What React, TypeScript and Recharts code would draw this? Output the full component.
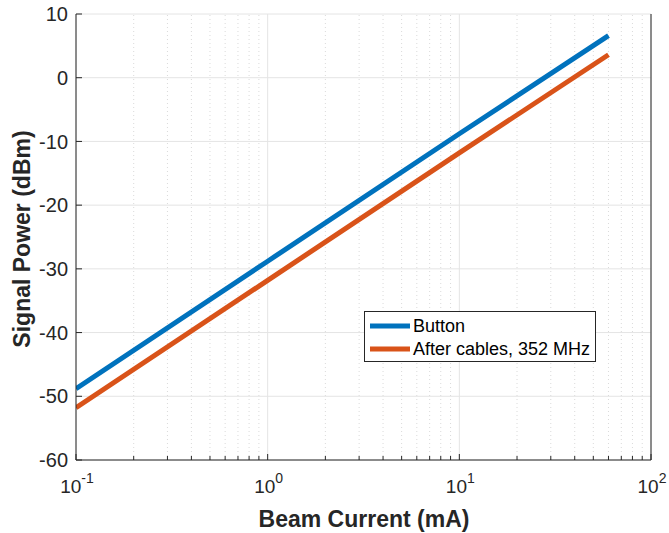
import React from 'react';
import { LineChart, Line, XAxis, YAxis, CartesianGrid, ReferenceLine } from 'recharts';

// beam current (mA) and signal power (dBm)
const current = [0.1, 1, 10, 60];
const buttonPower = [-48.8, -28.8, -8.8, 6.6];
const afterCablesPower = [-51.8, -31.8, -11.8, 3.6];

const majorXTicks = [0.1, 1, 10, 100];
const minorXTicks = [
  0.2, 0.3, 0.4, 0.5, 0.6, 0.7, 0.8, 0.9,
  2, 3, 4, 5, 6, 7, 8, 9,
  20, 30, 40, 50, 60, 70, 80, 90,
];
const yTicks = [-60, -50, -40, -30, -20, -10, 0, 10];

const seriesNames = ['Button', 'After cables, 352 MHz'];
const seriesColors = ['#0072BD', '#D95319'];

const data = current.map((c, i) => ({
  current: c,
  button: buttonPower[i],
  afterCables: afterCablesPower[i],
}));

const INK = '#262626';
const FONT = '"Liberation Sans", Arial, sans-serif';
const allXTicks = [...majorXTicks, ...minorXTicks].sort((a, b) => a - b);

const BottomTick = (props: any) => {
  const { x, y, payload } = props;
  const major = majorXTicks.includes(payload.value);
  return (
    <g>
      <line x1={x} x2={x} y1={y} y2={y - (major ? 6 : 4)} stroke={INK} />
      {major && (
        <text x={x + 1} y={y + 33} textAnchor="middle" fontSize={19} fill={INK} fontFamily={FONT}>
          10
          <tspan dy={-10} fontSize={14}>
            {Math.round(Math.log10(payload.value))}
          </tspan>
        </text>
      )}
    </g>
  );
};

const TopTick = (props: any) => {
  const { x, y, payload } = props;
  const major = majorXTicks.includes(payload.value);
  return <line x1={x} x2={x} y1={y} y2={y + (major ? 6 : 4)} stroke={INK} />;
};

const LeftTick = (props: any) => {
  const { x, y, payload } = props;
  return (
    <g>
      <line x1={x} x2={x + 6} y1={y} y2={y} stroke={INK} />
      <text x={x - 8} y={y} dy="0.36em" textAnchor="end" fontSize={20} fill={INK} fontFamily={FONT}>
        {payload.value}
      </text>
    </g>
  );
};

const RightTick = (props: any) => {
  const { x, y } = props;
  return <line x1={x} x2={x - 6} y1={y} y2={y} stroke={INK} />;
};

export default function App() {
  return (
    <div style={{ position: 'absolute', left: 0, top: 0, width: 669, height: 533, background: '#fff' }}>
      <LineChart
        width={669}
        height={533}
        data={data}
        margin={{ top: 14, right: 0, left: 0, bottom: 0 }}
      >
        <CartesianGrid yAxisId="left" vertical={false} stroke="#e4e4e4" />
        {minorXTicks.map((v) => (
          <ReferenceLine
            key={'m' + v}
            x={v}
            xAxisId="bottom"
            yAxisId="left"
            stroke="#dadada"
            strokeDasharray="1 3"
          />
        ))}
        {majorXTicks.map((v) => (
          <ReferenceLine key={'M' + v} x={v} xAxisId="bottom" yAxisId="left" stroke="#e4e4e4" />
        ))}
        <XAxis
          xAxisId="bottom"
          dataKey="current"
          type="number"
          scale="log"
          domain={[0.1, 100]}
          ticks={allXTicks}
          interval={0}
          allowDataOverflow
          height={73}
          tickSize={0}
          tickMargin={0}
          tickLine={false}
          tick={<BottomTick />}
          axisLine={{ stroke: INK }}
          label={{
            content: () => (
              <text x={364} y={527} textAnchor="middle" fontSize={23} fontWeight="bold" fill={INK} fontFamily={FONT}>
                Beam Current (mA)
              </text>
            ),
          }}
        />
        <XAxis
          xAxisId="top"
          orientation="top"
          dataKey="current"
          type="number"
          scale="log"
          domain={[0.1, 100]}
          ticks={allXTicks}
          interval={0}
          allowDataOverflow
          height={0}
          tickSize={0}
          tickMargin={0}
          tickLine={false}
          tick={<TopTick />}
          axisLine={{ stroke: INK }}
        />
        <YAxis
          yAxisId="left"
          type="number"
          domain={[-60, 10]}
          ticks={yTicks}
          interval={0}
          width={76}
          tickSize={0}
          tickMargin={0}
          tickLine={false}
          tick={<LeftTick />}
          axisLine={{ stroke: INK }}
          label={{
            content: () => (
              <text
                x={30}
                y={239}
                transform="rotate(-90 30 239)"
                textAnchor="middle"
                fontSize={23}
                fontWeight="bold"
                fill={INK}
                fontFamily={FONT}
              >
                Signal Power (dBm)
              </text>
            ),
          }}
        />
        <YAxis
          yAxisId="right"
          orientation="right"
          type="number"
          domain={[-60, 10]}
          ticks={yTicks}
          interval={0}
          width={18}
          tickSize={0}
          tickMargin={0}
          tickLine={false}
          tick={<RightTick />}
          axisLine={{ stroke: INK }}
        />
        <Line
          xAxisId="bottom"
          yAxisId="left"
          dataKey="button"
          name={seriesNames[0]}
          stroke={seriesColors[0]}
          strokeWidth={5}
          dot={false}
          isAnimationActive={false}
        />
        <Line
          xAxisId="bottom"
          yAxisId="left"
          dataKey="afterCables"
          name={seriesNames[1]}
          stroke={seriesColors[1]}
          strokeWidth={5}
          dot={false}
          isAnimationActive={false}
        />
      </LineChart>
      <div
        style={{
          position: 'absolute',
          left: 364,
          top: 311,
          width: 230,
          height: 49,
          border: `1px solid ${INK}`,
          background: '#fff',
          fontFamily: FONT,
          fontSize: 18,
          color: '#000',
        }}
      >
        {seriesNames.map((name, i) => (
          <div
            key={name}
            style={{ position: 'absolute', left: 5, top: 4 + i * 23, height: 20, display: 'flex', alignItems: 'center' }}
          >
            <svg width={40} height={20} style={{ display: 'block' }}>
              <line x1={0} x2={40} y1={10} y2={10} stroke={seriesColors[i]} strokeWidth={5} />
            </svg>
            <span style={{ marginLeft: 3, whiteSpace: 'nowrap', lineHeight: '20px' }}>{name}</span>
          </div>
        ))}
      </div>
    </div>
  );
}
